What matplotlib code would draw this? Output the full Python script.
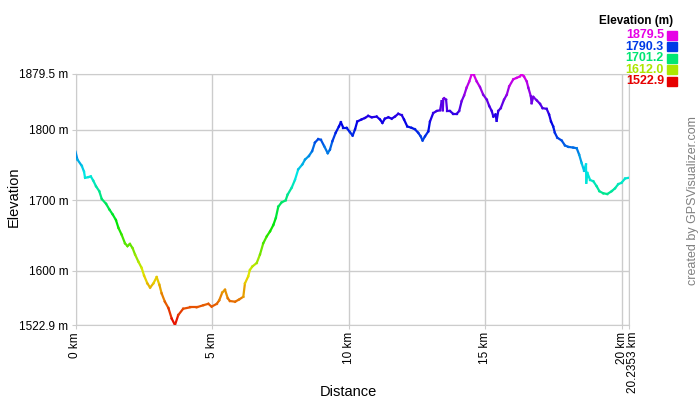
import numpy as np
import matplotlib
matplotlib.use("Agg")
import matplotlib.pyplot as plt
import matplotlib.transforms as mtransforms
from matplotlib.collections import LineCollection
from matplotlib.colors import hsv_to_rgb

plt.rcParams["font.family"] = ["Liberation Sans", "DejaVu Sans"]

# distance (km) and elevation (m)
dist_km = [0.0, 0.07, 0.23, 0.31, 0.35, 0.47, 0.56, 0.65, 0.75, 0.87, 0.96, 1.12, 1.24, 1.36,
           1.48, 1.57, 1.69, 1.81, 1.90, 1.99, 2.09, 2.18, 2.30, 2.42, 2.51, 2.63, 2.73, 2.85,
           2.97, 3.07, 3.15, 3.27, 3.40, 3.52, 3.64, 3.76, 3.94, 4.19, 4.43, 4.68, 4.86, 4.98,
           5.17, 5.26, 5.37, 5.47, 5.57, 5.65, 5.84, 5.98, 6.14, 6.20, 6.32, 6.38, 6.47, 6.63,
           6.75, 6.87, 7.00, 7.12, 7.24, 7.33, 7.42, 7.54, 7.69, 7.76, 7.91, 8.03, 8.15, 8.30,
           8.40, 8.54, 8.66, 8.76, 8.88, 8.98, 9.10, 9.23, 9.31, 9.40, 9.52, 9.64, 9.71, 9.80,
           9.92, 10.04, 10.14, 10.23, 10.31, 10.47, 10.59, 10.71, 10.84, 11.02, 11.14, 11.23,
           11.32, 11.45, 11.57, 11.69, 11.81, 11.94, 12.02, 12.14, 12.30, 12.42, 12.54, 12.63,
           12.70, 12.79, 12.91, 12.97, 13.09, 13.22, 13.34, 13.40, 13.44, 13.46, 13.49, 13.56,
           13.60, 13.70, 13.82, 13.95, 14.04, 14.13, 14.22, 14.31, 14.41, 14.50, 14.58, 14.68,
           14.80, 14.92, 15.05, 15.14, 15.23, 15.29, 15.37, 15.41, 15.47, 15.56, 15.68, 15.78,
           15.87, 16.02, 16.14, 16.26, 16.33, 16.41, 16.51, 16.57, 16.66, 16.69, 16.75, 16.88,
           17.00, 17.09, 17.24, 17.33, 17.40, 17.48, 17.54, 17.63, 17.79, 17.91, 18.03, 18.21,
           18.34, 18.43, 18.52, 18.61, 18.68, 18.69, 18.73, 18.83, 18.95, 19.07, 19.17, 19.31,
           19.46, 19.62, 19.74, 19.86, 19.98, 20.11, 20.2353]
elev_m = [1769, 1758, 1749, 1741, 1732, 1733, 1734, 1728, 1720, 1713, 1702, 1695, 1687, 1680,
          1672, 1661, 1651, 1639, 1635, 1638, 1632, 1623, 1613, 1604, 1593, 1582, 1576, 1582,
          1591, 1580, 1568, 1556, 1547, 1532, 1522.9, 1537, 1546, 1548, 1548, 1551, 1553, 1549,
          1553, 1558, 1569, 1573, 1561, 1557, 1556, 1559, 1563, 1582, 1592, 1601, 1606, 1611,
          1623, 1639, 1649, 1656, 1665, 1675, 1691, 1697, 1700, 1708, 1718, 1729, 1744, 1751,
          1758, 1763, 1770, 1782, 1787, 1786, 1777, 1767, 1772, 1784, 1796, 1805, 1811, 1803,
          1803, 1797, 1792, 1801, 1812, 1815, 1817, 1820, 1818, 1819, 1815, 1810,
          1816, 1818, 1816, 1819, 1823, 1821, 1815, 1805, 1803, 1801, 1796, 1791,
          1785, 1791, 1798, 1812, 1824, 1827, 1828, 1841, 1828, 1844, 1845, 1843,
          1827, 1827, 1823, 1823, 1827, 1841, 1849, 1860, 1869, 1879.5, 1878, 1869,
          1861, 1850, 1843, 1834, 1827, 1819, 1822, 1813, 1827, 1831, 1843, 1850,
          1862, 1872, 1874, 1876, 1879, 1876, 1869, 1860, 1848, 1838, 1847, 1842,
          1837, 1831, 1830, 1822, 1812, 1805, 1796, 1789, 1785, 1778, 1776, 1775,
          1774, 1765, 1753, 1742, 1751, 1725, 1739, 1729, 1727, 1720, 1713, 1710,
          1709, 1713, 1717, 1723, 1725, 1731, 1732]

legend_vals = ["1879.5", "1790.3", "1701.2", "1612.0", "1522.9"]
ytick_vals = [1522.9, 1600, 1700, 1800, 1879.5]
ytick_labels = ["1522.9 m", "1600 m", "1700 m", "1800 m", "1879.5 m"]
xtick_vals = [0, 5, 10, 15, 20, 20.2353]
xtick_labels = ["0 km", "5 km", "10 km", "15 km", "20 km", "20.2353 km"]

emin, emax = 1522.9, 1879.5


def elev_color(e):
    h = (300.0 / 360.0) * (e - emin) / (emax - emin)
    return hsv_to_rgb([h, 1.0, 0.9])


fig = plt.figure(figsize=(7, 4), dpi=100)
ax = fig.add_axes([75.5 / 700, 75 / 400, 553 / 700, 251 / 400])

x = np.array(dist_km)
y = np.array(elev_m)
pts = np.column_stack([x, y]).reshape(-1, 1, 2)
segs = np.concatenate([pts[:-1], pts[1:]], axis=1)
cols = [elev_color((a + b) / 2) for a, b in zip(y[:-1], y[1:])]
lc = LineCollection(segs, colors=cols, linewidths=1.6, capstyle="projecting", zorder=3)
ax.add_collection(lc)

ax.set_xlim(0, 20.2353)
ax.set_ylim(emin, emax)
ax.set_yticks(ytick_vals)
ax.set_yticklabels(ytick_labels, fontsize=8.5)
ax.set_xticks(xtick_vals)
ax.set_xticklabels(xtick_labels, fontsize=8.5, rotation=90)
ax.tick_params(length=3, color="#cccccc", pad=2)
ax.grid(True, color="#cccccc", linewidth=1)
for s in ax.spines.values():
    s.set_color("#cccccc")

# nudge the last distance label right so it sits beside "20 km"
shift = mtransforms.ScaledTranslation(5 / 100, 0, fig.dpi_scale_trans)
lbl = ax.get_xticklabels()[-1]
lbl.set_transform(lbl.get_transform() + shift)

fig.text(348 / 700, 1 - 392 / 400, "Distance", fontsize=10.5, ha="center", va="center")
fig.text(14 / 700, 1 - 197 / 400, "Elevation", fontsize=10.5, rotation=90,
         ha="center", va="center")

# legend
fig.text(673 / 700, 1 - 21 / 400, "Elevation (m)", fontsize=8.5, fontweight="bold",
         ha="right", va="center")
for i, v in enumerate(legend_vals):
    yy = 1 - (35 + i * 11.6) / 400
    c = elev_color(float(v))
    fig.text(664 / 700, yy, v, fontsize=9, fontweight="bold", color=c,
             ha="right", va="center")
    fig.patches.append(plt.Rectangle((667 / 700, yy - 4.5 / 400), 10 / 700, 9 / 400,
                                     transform=fig.transFigure, color=c))

fig.text(693 / 700, 1 - 201 / 400, "created by GPSVisualizer.com", rotation=90,
         fontsize=9, color="#808080", ha="center", va="center")

fig.savefig("out.png", dpi=100)
